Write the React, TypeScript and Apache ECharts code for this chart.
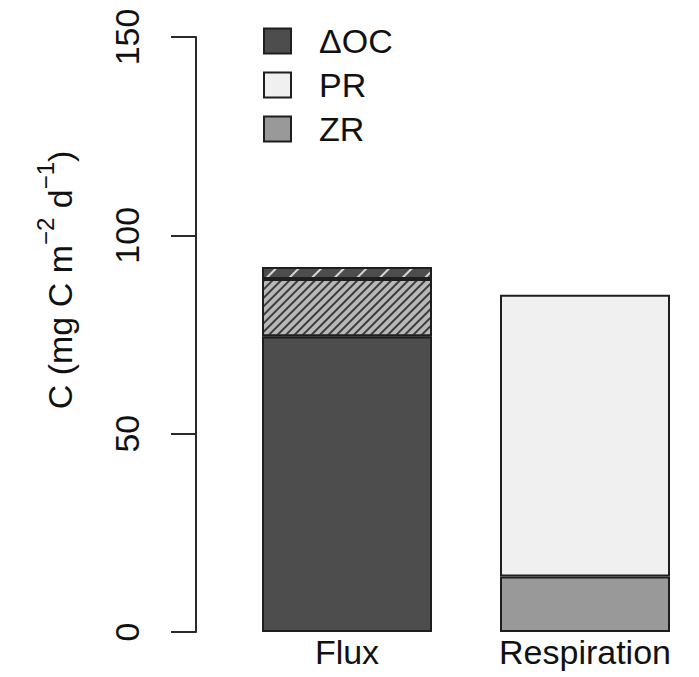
import React, { useEffect, useRef } from "react";
import * as echarts from "echarts";

const categories = ["Flux", "Respiration"];
const deltaOC = [74.5, "-"];
const fluxPart2 = [14.5, "-"];
const fluxPart3 = [3, "-"];
const zr = ["-", 14];
const pr = ["-", 71];
const yTicks = { min: 0, max: 150, interval: 50 };

const FONT = "Liberation Sans, Arial, sans-serif";
const BORDER = "#1e1e1e";

export default function App() {
  const ref = useRef<HTMLDivElement>(null);
  useEffect(() => {
    document.body.style.margin = "0";
    const chart = echarts.init(ref.current!, null, { renderer: "svg" });
    const bar = (name: string, data: any[], color: string, extra: any = {}) => ({
      name,
      type: "bar",
      stack: "s",
      data,
      barWidth: 170,
      clip: false,
      itemStyle: { color, borderColor: BORDER, borderWidth: 2, ...extra },
      emphasis: { disabled: true },
    });
    chart.setOption({
      animation: false,
      grid: { left: 347, right: 114, top: 37, bottom: 45 },
      legend: {
        orient: "vertical",
        left: 258,
        top: 19,
        itemWidth: 27,
        itemHeight: 25,
        itemGap: 10,
        icon: "rect",
        selectedMode: false,
        textStyle: { fontFamily: FONT, fontSize: 34, color: "#111", padding: [0, 0, 0, 23] },
        data: [
          { name: "ΔOC", itemStyle: { color: "#4d4d4d", borderColor: BORDER, borderWidth: 2, decal: "none" } },
          { name: "PR", itemStyle: { color: "#f0f0f0", borderColor: BORDER, borderWidth: 2, decal: "none" } },
          { name: "ZR", itemStyle: { color: "#999999", borderColor: BORDER, borderWidth: 2, decal: "none" } },
        ],
      },
      xAxis: {
        type: "category",
        data: categories,
        boundaryGap: false,
        axisLine: { show: false },
        axisTick: { show: false },
        axisLabel: { fontFamily: FONT, fontSize: 34, color: "#111", margin: 3 },
      },
      yAxis: {
        type: "value",
        min: yTicks.min,
        max: yTicks.max,
        interval: yTicks.interval,
        offset: 151,
        splitLine: { show: false },
        axisLine: { show: true, lineStyle: { color: "#2a2a2a", width: 2 } },
        axisTick: { show: true, length: 25, lineStyle: { color: "#2a2a2a", width: 2 } },
        axisLabel: { rotate: 90, fontFamily: FONT, fontSize: 34, color: "#111", margin: 52 },
      },
      series: [
        bar("ΔOC", deltaOC, "#4d4d4d"),
        bar("Flux2", fluxPart2, "#b8b8b8", {
          decal: {
            symbol: "rect",
            color: "#3c3c3c",
            dashArrayX: [1, 0],
            dashArrayY: [2, 4],
            rotation: -Math.PI / 4,
          },
        }),
        bar("Flux3", fluxPart3, "#4d4d4d", {
          decal: {
            symbol: "rect",
            color: "#d8d8d8",
            dashArrayX: [1, 0],
            dashArrayY: [1.5, 13.5],
            rotation: -Math.PI / 4,
          },
        }),
        bar("ZR", zr, "#999999"),
        bar("PR", pr, "#f0f0f0"),
      ],
      graphic: [
        {
          type: "text",
          x: 55,
          y: 280,
          rotation: Math.PI / 2,
          style: {
            text: "{a|C (mg C m}{s|−2}{a| d}{s|−1}{a|)}",
            align: "center",
            verticalAlign: "middle",
            fill: "#111",
            rich: {
              a: { fontFamily: FONT, fontSize: 34, lineHeight: 44, verticalAlign: "bottom", fill: "#111" },
              s: { fontFamily: FONT, fontSize: 24, lineHeight: 44, verticalAlign: "top", fill: "#111" },
            },
          },
        },
      ],
    });
    return () => chart.dispose();
  }, []);
  return <div ref={ref} style={{ width: 699, height: 677 }} />;
}
